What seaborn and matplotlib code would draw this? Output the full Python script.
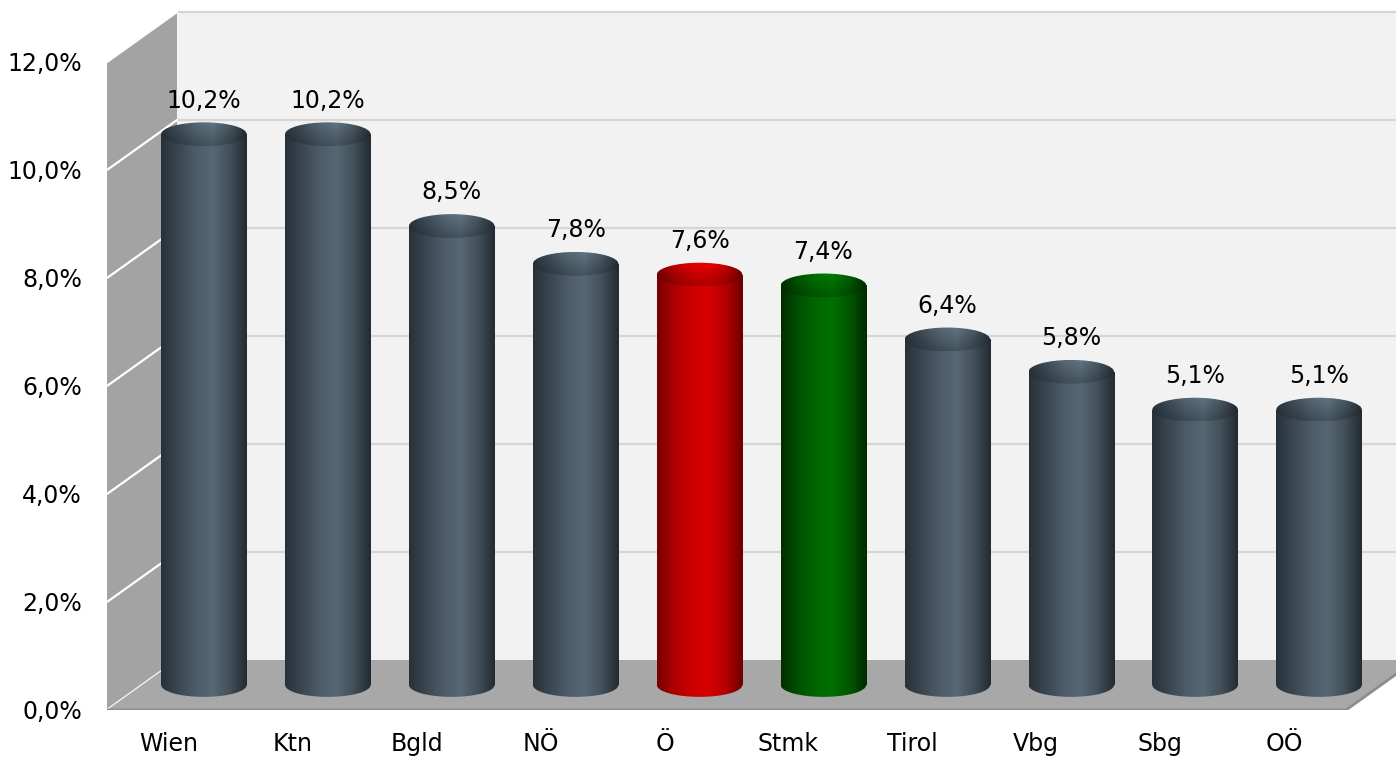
import numpy as np
import pandas as pd
import matplotlib
matplotlib.use("Agg")
import matplotlib.pyplot as plt
import seaborn as sns
from matplotlib.patches import Polygon, Ellipse
from matplotlib.colors import LinearSegmentedColormap

# data
regions = ["Wien", "Ktn", "Bgld", "NÖ", "Ö", "Stmk", "Tirol", "Vbg", "Sbg", "OÖ"]
values = [10.2, 10.2, 8.5, 7.8, 7.6, 7.4, 6.4, 5.8, 5.1, 5.1]
bar_kind = ["slate", "slate", "slate", "slate", "red", "green", "slate", "slate", "slate", "slate"]
yticks = [0, 2, 4, 6, 8, 10, 12]

# gradients for the cylinder look
grad = {
    "slate": ["#27313a", "#3a4751", "#4c5c68", "#566875", "#425059", "#232b32"],
    "red": ["#760000", "#ad0000", "#cc0000", "#d60000", "#b40000", "#6c0000"],
    "green": ["#002e00", "#005000", "#006600", "#007000", "#005600", "#002a00"],
}
flat = {"slate": "#4a5a66", "red": "#cc0000", "green": "#006600"}

DX = 70 / 123.9   # depth offset in category units
DY = 50 / 54.0    # depth offset in value units
BW = 0.69         # cylinder width
EH = 0.44         # ellipse height

sns.set_style("white")
plt.rcParams["font.family"] = ["DejaVu Sans"]
plt.rcParams["text.color"] = "black"
plt.rcParams["xtick.color"] = "black"
plt.rcParams["ytick.color"] = "black"

fig = plt.figure(figsize=(13.96, 7.58), dpi=100)
ax = fig.add_axes([107 / 1396, 48 / 758, 1289 / 1396, 700 / 758])

df = pd.DataFrame({"region": regions, "value": values, "kind": bar_kind})
sns.barplot(data=df, x="region", y="value", hue="region",
            palette={r: flat[k] for r, k in zip(regions, bar_kind)},
            width=BW, legend=False, ax=ax, zorder=5)

# 3d box: left wall, back wall, floor
ax.add_patch(Polygon([(-0.5, 0), (-0.5, 12), (-0.5 + DX, 12 + DY), (-0.5 + DX, DY)],
                     closed=True, fc="#a3a3a3", ec="none", zorder=0))
ax.add_patch(Polygon([(-0.5 + DX, DY), (9.5 + DX, DY), (9.5 + DX, 12 + DY), (-0.5 + DX, 12 + DY)],
                     closed=True, fc="#f2f2f2", ec="none", zorder=0))
for v in yticks[1:]:
    ax.plot([-0.5 + DX, 9.5 + DX], [v + DY, v + DY], color="#d6d6d6", lw=1.6, zorder=1)
for v in yticks:
    ax.plot([-0.5, -0.5 + DX], [v, v + DY], color="white", lw=1.6, zorder=1)
ax.add_patch(Polygon([(-0.5, 0), (9.5, 0), (9.5 + DX, DY), (-0.5 + DX, DY)],
                     closed=True, fc="#a8a8a8", ec="none", zorder=2))
ax.plot([-0.5, 9.5, 9.5 + DX], [0, 0, DY], color="#8c8c8c", lw=2, zorder=2.5)

# turn seaborn bars into cylinders
xs = np.linspace(0, 1, 256)
for p in ax.patches:
    if not isinstance(p, matplotlib.patches.Rectangle) or p.get_width() > 1:
        continue
    i = int(round(p.get_x() + p.get_width() / 2))
    if i < 0 or i >= len(regions):
        continue
    kind = bar_kind[i]
    cmap = LinearSegmentedColormap.from_list(kind, grad[kind])
    p.set_x(p.get_x() + DX / 2)
    p.set_y(DY / 2)
    p.set_facecolor("none")
    p.set_edgecolor("none")
    x0, w, h = p.get_x(), p.get_width(), p.get_height()
    cx = x0 + w / 2
    img = cmap(xs)[None, :, :3].repeat(2, axis=0)
    # body
    im = ax.imshow(img, extent=[x0, x0 + w, DY / 2, DY / 2 + h], aspect="auto",
                   interpolation="bilinear", zorder=5)
    im.set_clip_path(p)
    # bottom rim
    bot = Ellipse((cx, DY / 2), w, EH, fc="none", ec="none", transform=ax.transData)
    ax.add_patch(bot)
    im2 = ax.imshow(img, extent=[x0, x0 + w, DY / 2 - EH, DY / 2 + EH], aspect="auto",
                    interpolation="bilinear", zorder=5)
    im2.set_clip_path(bot)
    # top cap
    top_y = DY / 2 + h
    shade = np.linspace(1.12, 0.8, 64)[:, None, None]
    cap = np.clip(cmap(xs)[None, :, :3] * shade, 0, 1)
    capp = Ellipse((cx, top_y), w, EH, fc="none", ec="none", transform=ax.transData)
    ax.add_patch(capp)
    im3 = ax.imshow(cap, extent=[x0, x0 + w, top_y - EH / 2, top_y + EH / 2], origin="upper",
                    aspect="auto", interpolation="bilinear", zorder=6)
    im3.set_clip_path(capp)
    ax.annotate(f"{values[i]:.1f}".replace(".", ",") + "%", (cx, top_y + EH / 2),
                xytext=(0, 7), textcoords="offset points", ha="center", va="bottom",
                fontsize=17, color="black", zorder=7)

ax.set_xlim(-0.5, -0.5 + 1289 / 123.9)
ax.set_ylim(0, 700 / 54.0)
ax.set_yticks(yticks)
ax.set_yticklabels([f"{v:.1f}".replace(".", ",") + "%" for v in yticks], fontsize=17)
ax.set_xticks(range(len(regions)))
ax.set_xticklabels(regions, fontsize=17)
ax.tick_params(axis="y", length=0, pad=18, labelcolor="black")
ax.tick_params(axis="x", length=0, pad=16, labelcolor="black")
ax.set_xlabel("")
ax.set_ylabel("")
for s in ax.spines.values():
    s.set_visible(False)

fig.savefig("out.png", dpi=100)
